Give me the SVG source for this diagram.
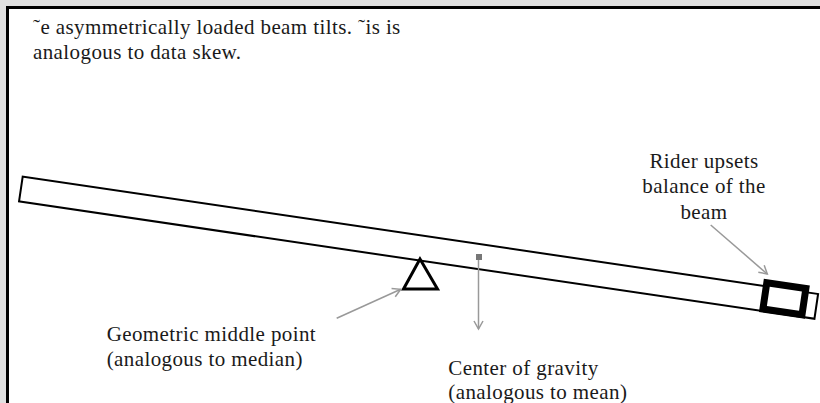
<svg xmlns="http://www.w3.org/2000/svg" width="820" height="403" viewBox="0 0 820 403">
<style>
text{font-family:"Liberation Serif","Times New Roman",serif;font-size:21px;letter-spacing:0.4px;fill:#1a1a1a}
.conn{stroke:#999;stroke-width:1.5;fill:none}
</style>
<defs>
<marker id="ah" markerUnits="userSpaceOnUse" markerWidth="14" markerHeight="14" refX="10" refY="7" orient="auto" viewBox="0 0 14 14">
<path d="M2,2.5 L10,7 L2,11.5" fill="none" stroke="#999" stroke-width="1.5"/>
</marker>
</defs>
<rect x="0" y="0" width="820" height="403" fill="#e0e0e0"/>
<rect x="7.5" y="7.5" width="830" height="420" fill="#fff" stroke="#000" stroke-width="3"/>
<g id="caption">
<text x="33" y="34">˜e asymmetrically loaded beam tilts. ˜is is</text>
<text x="33" y="59">analogous to data skew.</text>
</g>
<g id="beam" transform="translate(22.7,176.7) rotate(8.39)">
<rect x="0" y="0" width="804" height="25" fill="#fff" stroke="#000" stroke-width="2"/>
<rect id="rider" x="751.6" y="-3.7" width="39.5" height="26.6" fill="#fff" stroke="#000" stroke-width="7"/>
</g>
<g id="fulcrum">
<polygon points="420,259 403.5,289 437.5,289" fill="#fff" stroke="#000" stroke-width="3" stroke-linejoin="miter"/>
</g>
<g id="cog">
<rect x="476" y="254" width="6" height="6" fill="#777"/>
</g>
<g id="connectors">
<line class="conn" x1="336.7" y1="318.3" x2="400.7" y2="289.3" marker-end="url(#ah)"/>
<line class="conn" x1="478.5" y1="260" x2="478.5" y2="329" marker-end="url(#ah)"/>
<line class="conn" x1="710.7" y1="225" x2="767.3" y2="274" marker-end="url(#ah)"/>
</g>
<g id="rider-label">
<text x="704" y="167.5" text-anchor="middle">Rider upsets</text>
<text x="704" y="193" text-anchor="middle">balance of the</text>
<text x="704" y="218.5" text-anchor="middle">beam</text>
</g>
<g id="median-label">
<text x="106.7" y="340.5">Geometric middle point</text>
<text x="106.7" y="365.5">(analogous to median)</text>
</g>
<g id="mean-label">
<text x="448.3" y="374.5">Center of gravity</text>
<text x="448.3" y="399">(analogous to mean)</text>
</g>
</svg>
